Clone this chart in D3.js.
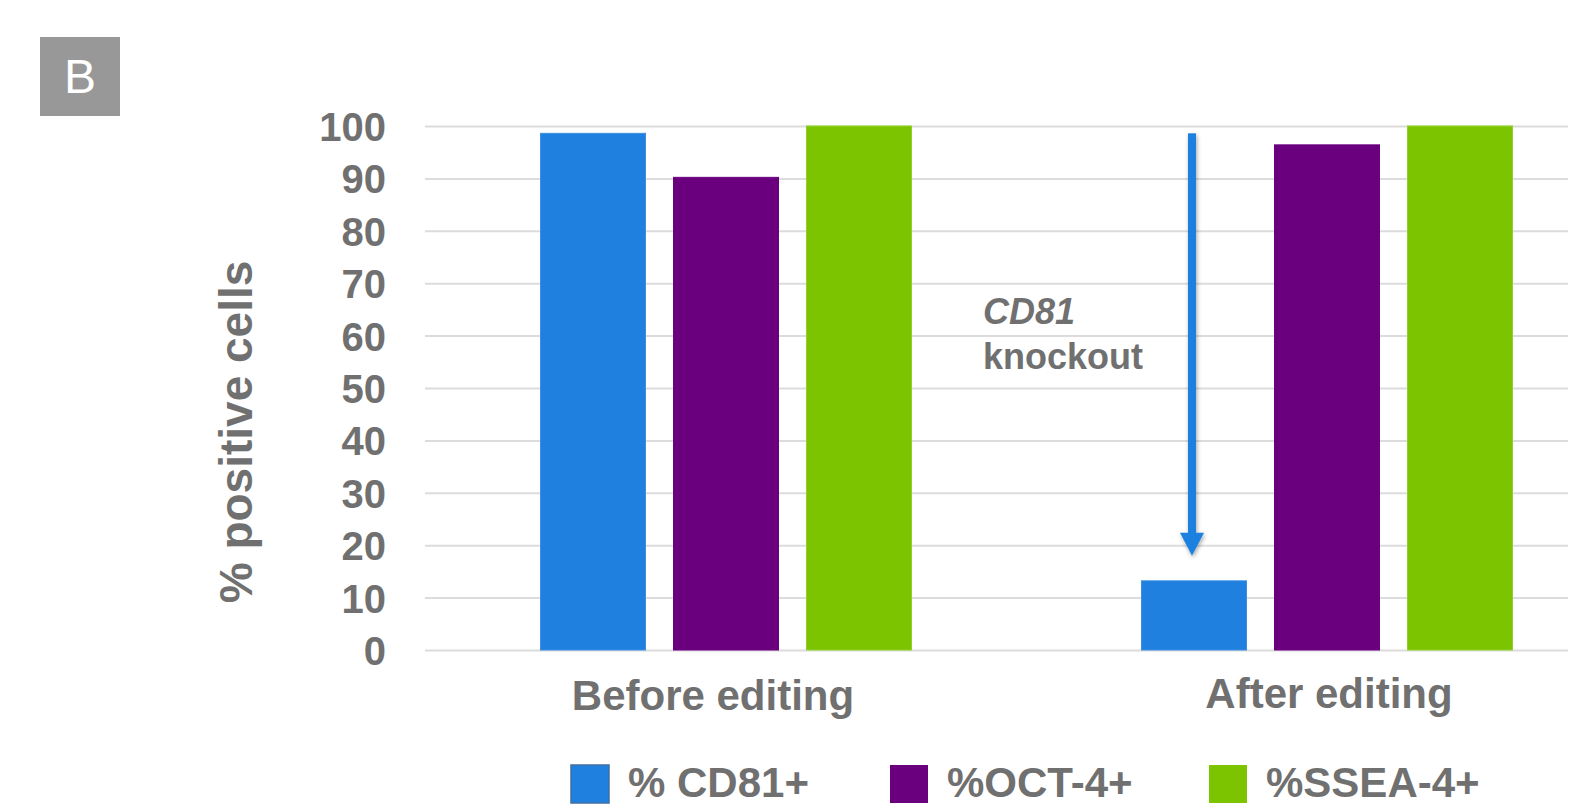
<!DOCTYPE html>
<html>
<head>
<meta charset="utf-8">
<script src="https://cdn.jsdelivr.net/npm/d3@7"></script>
<style>
  body { margin: 0; background: #fff; }
  svg text { font-family: "Liberation Sans", Arial, sans-serif; }
</style>
</head>
<body>
<svg id="chart" width="1574" height="805"></svg>
<script>
"use strict";
// data
const categories = ["Before editing", "After editing"];
const seriesNames = ["% CD81+", "%OCT-4+", "%SSEA-4+"];
const cd81Values = [98.6, 13.2];
const oct4Values = [90.2, 96.4];
const ssea4Values = [100, 100];
const yTicks = [0, 10, 20, 30, 40, 50, 60, 70, 80, 90, 100];
const knockoutArrow = [98.6, 18]; // arrow runs from before value down to this

const COLORS = ["#1f80df", "#6b007f", "#7dc400"];
const STROKES = ["#3d8fe0", "#6b007f", "#8fd12a"];
const TEXT = "#707070";

const svg = d3.select("#chart");
const margin = { top: 126, left: 425, right: 6, bottom: 155 };
const width = 1574 - margin.left - margin.right;
const height = 805 - margin.top - margin.bottom;

const y = d3.scaleLinear().domain([0, 100]).range([height, 0]);
const x = d3.scalePoint().domain(categories).range([301, 902]);
const xInner = d3.scaleBand().domain(seriesNames)
    .range([-185.5, 185.5]).paddingInner(28 / 133);

const table = categories.map((c, i) => ({
  category: c,
  values: [cd81Values[i], oct4Values[i], ssea4Values[i]]
}));

// drop shadow for the arrow
const defs = svg.append("defs");
defs.append("filter").attr("id", "shadow")
    .attr("x", "-50%").attr("y", "-5%").attr("width", "200%").attr("height", "110%")
  .append("feDropShadow")
    .attr("dx", 1).attr("dy", 2).attr("stdDeviation", 2)
    .attr("flood-color", "#000").attr("flood-opacity", 0.35);

// panel letter
svg.append("rect")
    .attr("x", 40).attr("y", 37).attr("width", 80).attr("height", 79)
    .style("fill", "#989898");
svg.append("text")
    .attr("x", 80).attr("y", 93)
    .attr("text-anchor", "middle")
    .style("font-size", "48px").style("fill", "#fff")
    .text("B");

const g = svg.append("g")
    .attr("transform", `translate(${margin.left},${margin.top})`);

// gridlines + y ticks
const yAxis = d3.axisLeft(y).tickValues(yTicks).tickSize(-width).tickPadding(39);
g.append("g").attr("class", "axis axis--y")
    .call(yAxis)
    .call(a => a.select(".domain").remove())
    .call(a => a.selectAll("line").style("stroke", "#dcdcdc").style("stroke-width", 2))
    .call(a => a.selectAll("text")
        .style("font-size", "40px").style("font-weight", "bold")
        .style("fill", TEXT).attr("dy", "0.36em"));

// bars
const groups = g.selectAll("g.group")
    .data(table)
    .enter()
    .append("g")
    .attr("class", "group")
    .attr("transform", d => `translate(${x(d.category)},0)`);

groups.selectAll("rect")
    .data(d => d.values.map((v, i) => ({ name: seriesNames[i], value: v, i: i })))
    .enter()
    .append("rect")
    .attr("x", d => xInner(d.name))
    .attr("y", d => y(d.value))
    .attr("width", xInner.bandwidth())
    .attr("height", d => height - y(d.value))
    .style("fill", d => COLORS[d.i])
    .style("stroke", d => STROKES[d.i])
    .style("stroke-width", 1);

// category labels (the first one sits a little left of its group)
g.append("g").selectAll("text")
    .data(categories)
    .enter()
    .append("text")
    .attr("x", d => x(d))
    .attr("dx", (d, i) => i === 0 ? -13 : 2)
    .attr("y", (d, i) => height + (i === 0 ? 60 : 58))
    .attr("text-anchor", "middle")
    .style("font-size", "42px").style("font-weight", "bold").style("fill", TEXT)
    .text(d => d);

// knockout arrow
const arrowX = x(categories[1]) + xInner(seriesNames[0]) + xInner.bandwidth() / 2 - 2;
const arrowTop = y(knockoutArrow[0]);
const arrowTip = y(knockoutArrow[1]);
const arrow = g.append("g").attr("filter", "url(#shadow)");
arrow.append("rect")
    .attr("x", arrowX - 4).attr("y", arrowTop)
    .attr("width", 8).attr("height", arrowTip - arrowTop - 20)
    .style("fill", COLORS[0]);
arrow.append("path")
    .attr("d", `M${arrowX - 12},${arrowTip - 23}L${arrowX + 12},${arrowTip - 23}L${arrowX},${arrowTip}Z`)
    .style("fill", COLORS[0]);

// annotation
const note = g.append("text")
    .attr("x", 558).attr("y", 198)
    .style("font-size", "36px").style("font-weight", "bold").style("fill", TEXT);
note.append("tspan").style("font-style", "italic").text("CD81");
note.append("tspan").attr("x", 558).attr("dy", 45).text("knockout");

// y axis title
svg.append("text")
    .attr("transform", `translate(252,432) rotate(-90)`)
    .attr("text-anchor", "middle")
    .style("font-size", "46px").style("font-weight", "bold").style("fill", TEXT)
    .text("% positive cells");

// legend
const legend = svg.append("g").attr("class", "legend")
    .selectAll("g")
    .data(seriesNames)
    .enter()
    .append("g")
    .attr("transform", (d, i) => `translate(${571 + i * 319},765)`);
legend.append("rect")
    .attr("width", 38).attr("height", 38)
    .style("fill", (d, i) => COLORS[i])
    .style("stroke", (d, i) => i === 0 ? "#3f6fa0" : "none")
    .style("stroke-width", 1.5);
legend.append("text")
    .attr("x", 57).attr("y", 32)
    .style("font-size", "42px").style("font-weight", "bold").style("fill", TEXT)
    .text(d => d);
</script>
</body>
</html>
